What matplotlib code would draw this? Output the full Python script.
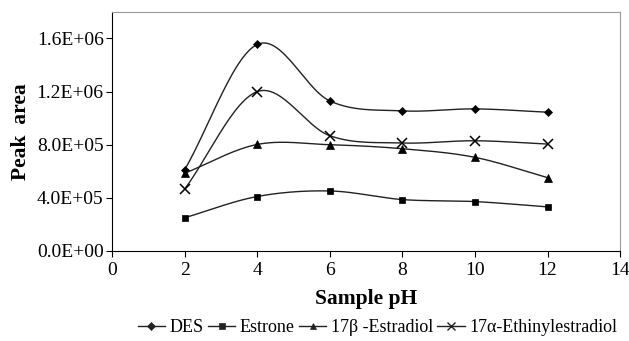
import numpy as np
import matplotlib.pyplot as plt

# ──────────────────────────────────────────────
# Data
# ──────────────────────────────────────────────
ph = [2, 4, 6, 8, 10, 12]
des = [6.1e5, 1.555e6, 1.13e6, 1.055e6, 1.07e6, 1.045e6]
estrone = [2.5e5, 4.1e5, 4.52e5, 3.87e5, 3.72e5, 3.32e5]
estradiol = [5.85e5, 8.02e5, 8.0e5, 7.7e5, 7.05e5, 5.52e5]
ethinyl = [4.65e5, 1.2e6, 8.68e5, 8.13e5, 8.3e5, 8.05e5]

labels = ["DES", "Estrone", "17β -Estradiol", "17α-Ethinylestradiol"]
markers = ["D", "s", "^", "x"]
msizes = [4.5, 5, 5.5, 6.5]


def smooth(x, y, n=30):
    """Catmull-Rom style smoothing, similar to spreadsheet smoothed lines."""
    x = np.asarray(x, float)
    y = np.asarray(y, float)
    px = np.concatenate([[2 * x[0] - x[1]], x, [2 * x[-1] - x[-2]]])
    py = np.concatenate([[2 * y[0] - y[1]], y, [2 * y[-1] - y[-2]]])
    xs, ys = [], []
    t = np.linspace(0, 1, n)
    for i in range(1, len(px) - 2):
        p0, p1, p2, p3 = px[i - 1], px[i], px[i + 1], px[i + 2]
        q0, q1, q2, q3 = py[i - 1], py[i], py[i + 1], py[i + 2]
        for arr, a0, a1, a2, a3 in ((xs, p0, p1, p2, p3), (ys, q0, q1, q2, q3)):
            arr.extend(0.5 * ((2 * a1) + (-a0 + a2) * t
                              + (2 * a0 - 5 * a1 + 4 * a2 - a3) * t ** 2
                              + (-a0 + 3 * a1 - 3 * a2 + a3) * t ** 3))
    return np.array(xs), np.array(ys)


plt.rcParams["font.family"] = ["Liberation Serif", "DejaVu Serif"]

fig = plt.figure(figsize=(6.29, 3.41), dpi=100)
ax = fig.add_axes([0.178, 0.264, 0.808, 0.701])

for series, lab, m, ms in zip([des, estrone, estradiol, ethinyl], labels, markers, msizes):
    sx, sy = smooth(ph, series)
    ax.plot(sx, sy, color="#222222", lw=1.0)
    ax.plot(ph, series, linestyle="none", marker=m, ms=ms, color="black",
            mew=1.1 if m == "x" else 0.5)
    # legend proxy
    ax.plot([], [], color="#222222", lw=1.0, marker=m, ms=ms * 0.85,
            mew=1.0 if m == "x" else 0.5, label=lab)

ax.set_xlim(0, 14)
ax.set_ylim(0, 1.8e6)
ax.set_xticks(range(0, 15, 2))
ax.set_yticks([0, 4e5, 8e5, 1.2e6, 1.6e6])
ax.set_yticklabels(["0.0E+00", "4.0E+05", "8.0E+05", "1.2E+06", "1.6E+06"])
ax.tick_params(axis="both", labelsize=14, direction="out", length=4, width=0.8)
ax.tick_params(axis="x", pad=4)
ax.tick_params(axis="y", pad=2)

for side in ["top", "right"]:
    ax.spines[side].set_color("#999999")
ax.spines["left"].set_color("black")
ax.spines["bottom"].set_color("black")

ax.set_xlabel("Sample pH", fontsize=15.5, fontweight="bold", labelpad=7)
ax.set_ylabel("Peak  area", fontsize=15.5, fontweight="bold", labelpad=4)

fig.legend(loc="center", bbox_to_anchor=(0.6, 0.04), ncol=4, frameon=False,
           fontsize=13, handlelength=1.5, handletextpad=0.25, columnspacing=0.25)

fig.savefig("out.png", dpi=100)
